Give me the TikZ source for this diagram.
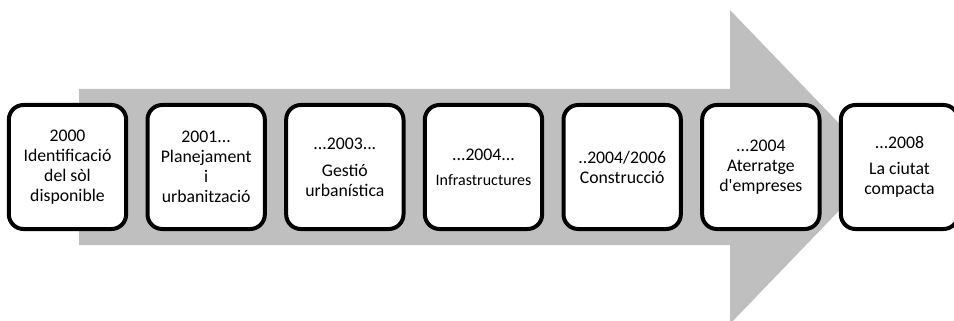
\documentclass[tikz,border=0pt]{standalone}
\usepackage{fontspec}
\setmainfont{Carlito}
\usetikzlibrary{positioning}

\begin{document}
\begin{tikzpicture}[
    x=0.75pt, y=-0.75pt,
    node distance=13pt,
    stage/.style={draw, line width=3pt, fill=white, rounded corners=11pt,
        minimum width=88pt, minimum height=93pt, align=center,
        font=\fontsize{13.3}{15}\selectfont, inner sep=2pt},
    band/.style={fill=black!25}]

\useasboundingbox (0,0) rectangle (954,321);

% Big grey arrow behind the stages
\fill[band] (79,89) -- (730,89) -- (730,10) -- (881,167)
    -- (730,324) -- (730,245) -- (79,245) -- cycle;

% Stages
\node[stage] (s2000) at (67.5,167) {2000\\Identificació\\del sòl\\disponible};
\node[stage, right=of s2000] (s2001) {2001...\\Planejament\\i\\urbanització};
\node[stage, right=of s2001] (s2003) {...2003...\\[5pt]Gestió\\urbanística};
\node[stage, right=of s2003] (s2004a) {...2004...\\[4pt]{\fontsize{12}{14}\selectfont Infrastructures}};
\node[stage, right=of s2004a] (s2006) {..2004/2006\\Construcció};
\node[stage, right=of s2006] (s2004b) {...2004\\Aterratge\\d\textquotesingle empreses};
\node[stage, right=of s2004b] (s2008) {...2008\\[5pt]La ciutat\\compacta};

\end{tikzpicture}
\end{document}
